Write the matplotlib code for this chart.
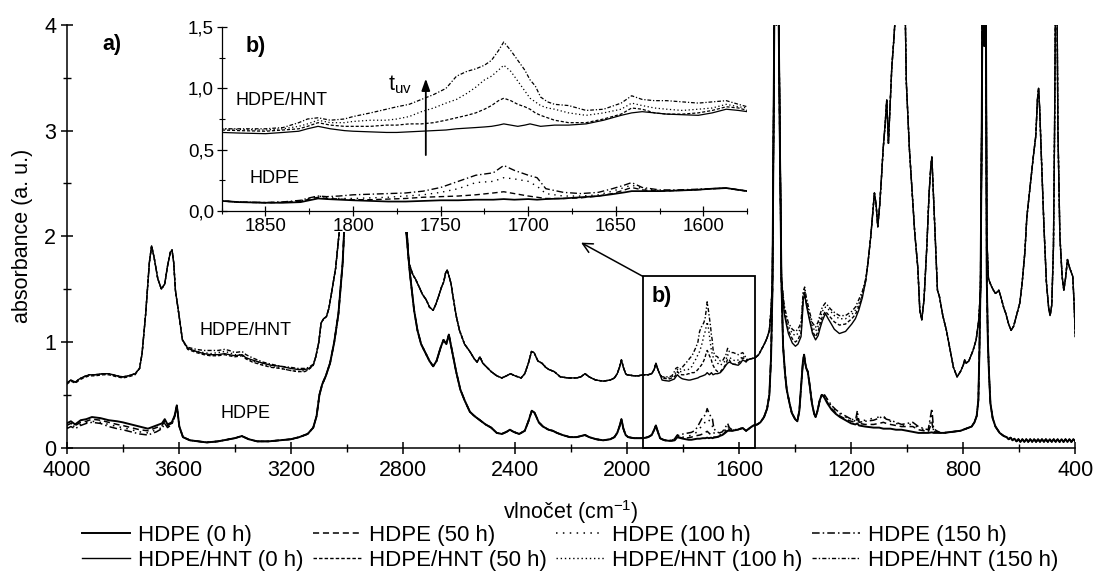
import matplotlib
matplotlib.use('Agg')
import matplotlib.pyplot as plt
from matplotlib.patches import Rectangle
from matplotlib.lines import Line2D
import matplotlib.ticker as mticker

plt.rcParams['font.family'] = ['Liberation Sans', 'DejaVu Sans']
plt.rcParams['mathtext.default'] = 'regular'

# ---------------- DATA ----------------
# HDPE, 4000-3615 cm-1 (differs per exposure time)
hdpe_wn_A = [4000, 3985, 3970, 3950, 3930, 3910, 3880, 3850, 3820, 3800,
             3770, 3740, 3710, 3680, 3660, 3650, 3640, 3625, 3615]
hdpe0_A = [0.23, 0.25, 0.22, 0.26, 0.27, 0.29, 0.28, 0.26, 0.25, 0.24,
           0.22, 0.20, 0.18, 0.21, 0.23, 0.27, 0.22, 0.24, 0.30]
hdpe50_A = [0.21, 0.23, 0.21, 0.24, 0.25, 0.27, 0.26, 0.24, 0.22, 0.21,
            0.19, 0.17, 0.16, 0.19, 0.21, 0.25, 0.21, 0.23, 0.30]
hdpe100_A = [0.19, 0.21, 0.20, 0.22, 0.24, 0.25, 0.24, 0.22, 0.20, 0.19,
             0.17, 0.15, 0.14, 0.17, 0.19, 0.24, 0.20, 0.22, 0.29]
hdpe150_A = [0.18, 0.20, 0.18, 0.21, 0.23, 0.24, 0.23, 0.20, 0.18, 0.17,
             0.15, 0.13, 0.12, 0.15, 0.18, 0.23, 0.19, 0.22, 0.29]

# HDPE, 3607-1882 cm-1 (common to all exposure times)
hdpe_wn_B = [3607, 3598, 3585, 3560, 3530, 3500, 3460, 3420, 3400, 3375,
             3350, 3320, 3280, 3240, 3200, 3170, 3140, 3120, 3108, 3098,
             3088, 3075, 3060, 3045, 3030, 3015, 3000, 2980, 2950, 2920,
             2880, 2850, 2820, 2800, 2790, 2775, 2760, 2748, 2735, 2720,
             2705, 2692, 2680, 2665, 2655, 2645, 2636, 2625, 2610, 2595,
             2580, 2561, 2545, 2530, 2520, 2505, 2485, 2465, 2447, 2430,
             2418, 2405, 2385, 2365, 2352, 2340, 2330, 2315, 2300, 2280,
             2265, 2250, 2230, 2204, 2180, 2165, 2150, 2135, 2110, 2085,
             2060, 2045, 2035, 2027, 2020, 2013, 2005, 1996, 1975, 1960,
             1942, 1925, 1912, 1903, 1897, 1890, 1882]
hdpe_B = [0.40, 0.20, 0.10, 0.07, 0.06, 0.05, 0.06, 0.08, 0.09, 0.11,
          0.08, 0.06, 0.06, 0.07, 0.08, 0.10, 0.13, 0.19, 0.30, 0.50,
          0.60, 0.68, 0.80, 1.00, 1.27, 1.75, 2.60, 3.60, 4.60, 5.00,
          4.80, 5.00, 3.80, 2.60, 2.10, 1.65, 1.30, 1.11, 0.98, 0.90,
          0.82, 0.77, 0.82, 0.95, 1.02, 0.98, 1.07, 0.92, 0.72, 0.55,
          0.45, 0.34, 0.30, 0.27, 0.25, 0.22, 0.19, 0.14, 0.13, 0.15,
          0.17, 0.15, 0.13, 0.16, 0.25, 0.35, 0.33, 0.24, 0.20, 0.17,
          0.16, 0.14, 0.12, 0.10, 0.10, 0.11, 0.12, 0.10, 0.08, 0.07,
          0.08, 0.10, 0.14, 0.20, 0.27, 0.18, 0.12, 0.10, 0.09, 0.09,
          0.09, 0.10, 0.12, 0.17, 0.21, 0.15, 0.09]

# HDPE, carbonyl region 1875-1575 cm-1
hdpe_wn_C = [1875, 1865, 1850, 1840, 1830, 1825, 1820, 1815, 1808, 1800,
             1790, 1780, 1770, 1760, 1750, 1740, 1730, 1720, 1714, 1708,
             1700, 1695, 1690, 1680, 1670, 1660, 1652, 1645, 1641, 1635,
             1625, 1615, 1605, 1595, 1587, 1580, 1575]
hdpe0_C = [0.08, 0.07, 0.065, 0.065, 0.07, 0.085, 0.10, 0.095, 0.09, 0.085,
           0.08, 0.075, 0.075, 0.08, 0.085, 0.085, 0.09, 0.09, 0.095, 0.09,
           0.095, 0.09, 0.095, 0.10, 0.11, 0.12, 0.135, 0.15, 0.16, 0.16,
           0.16, 0.165, 0.17, 0.18, 0.185, 0.17, 0.16]
hdpe50_C = [0.08, 0.07, 0.065, 0.068, 0.075, 0.095, 0.11, 0.10, 0.095, 0.09,
            0.09, 0.095, 0.10, 0.11, 0.115, 0.12, 0.13, 0.145, 0.155, 0.14,
            0.12, 0.11, 0.10, 0.10, 0.105, 0.12, 0.14, 0.17, 0.19, 0.17,
            0.16, 0.165, 0.17, 0.18, 0.185, 0.17, 0.16]
hdpe100_C = [0.08, 0.07, 0.066, 0.07, 0.08, 0.10, 0.12, 0.11, 0.10, 0.10,
             0.105, 0.11, 0.12, 0.13, 0.15, 0.18, 0.23, 0.24, 0.27, 0.26,
             0.24, 0.20, 0.14, 0.12, 0.12, 0.13, 0.16, 0.19, 0.21, 0.18,
             0.165, 0.165, 0.17, 0.18, 0.185, 0.17, 0.16]
hdpe150_C = [0.08, 0.07, 0.067, 0.072, 0.085, 0.105, 0.12, 0.115, 0.12, 0.13,
             0.135, 0.14, 0.145, 0.16, 0.19, 0.24, 0.29, 0.31, 0.37, 0.33,
             0.29, 0.27, 0.18, 0.15, 0.14, 0.15, 0.18, 0.21, 0.23, 0.19,
             0.17, 0.17, 0.175, 0.18, 0.185, 0.17, 0.16]

# HDPE, 1570-1300 cm-1 (common)
hdpe_wn_D = [1570, 1560, 1549, 1535, 1524, 1511, 1500, 1492, 1486, 1481,
             1477, 1472, 1467, 1462, 1455, 1449, 1443, 1436, 1430, 1420,
             1412, 1400, 1392, 1385, 1378, 1372, 1368, 1364, 1360, 1355,
             1349, 1340, 1332, 1327, 1320, 1312, 1305, 1300]
hdpe_D = [0.17, 0.19, 0.21, 0.22, 0.24, 0.29, 0.37, 0.50, 0.85, 1.50,
          3.00, 5.00, 4.00, 5.00, 3.00, 1.59, 0.96, 0.70, 0.55, 0.42,
          0.33, 0.27, 0.25, 0.35, 0.60, 0.82, 0.88, 0.80, 0.75, 0.72,
          0.61, 0.42, 0.32, 0.29, 0.35, 0.45, 0.50, 0.49]

# HDPE, 1295-880 cm-1 (differs per exposure time)
hdpe_wn_E = [1295, 1285, 1270, 1255, 1240, 1220, 1200, 1185, 1178, 1172,
             1150, 1120, 1100, 1085, 1075, 1060, 1040, 1020, 1000, 980,
             960, 940, 925, 912, 906, 895, 880]
hdpe0_E = [0.47, 0.42, 0.36, 0.32, 0.29, 0.26, 0.23, 0.22, 0.23, 0.21,
           0.20, 0.19, 0.19, 0.18, 0.18, 0.18, 0.17, 0.17, 0.16, 0.15,
           0.14, 0.14, 0.14, 0.145, 0.14, 0.14, 0.14]
hdpe50_E = [0.48, 0.43, 0.37, 0.33, 0.30, 0.27, 0.25, 0.24, 0.28, 0.23,
            0.22, 0.22, 0.23, 0.24, 0.23, 0.22, 0.21, 0.20, 0.20, 0.20,
            0.17, 0.16, 0.15, 0.24, 0.15, 0.15, 0.14]
hdpe100_E = [0.49, 0.45, 0.39, 0.35, 0.32, 0.29, 0.27, 0.26, 0.31, 0.25,
             0.26, 0.28, 0.29, 0.29, 0.27, 0.25, 0.23, 0.21, 0.22, 0.22,
             0.19, 0.17, 0.16, 0.30, 0.16, 0.15, 0.14]
hdpe150_E = [0.50, 0.46, 0.40, 0.36, 0.33, 0.30, 0.27, 0.25, 0.35, 0.24,
             0.25, 0.26, 0.28, 0.30, 0.27, 0.26, 0.24, 0.22, 0.23, 0.24,
             0.20, 0.18, 0.17, 0.37, 0.18, 0.16, 0.14]

# HDPE, 870-400 cm-1 (common; fine ringing below 650 cm-1)
hdpe_wn_F = [870, 840, 810, 790, 770, 760, 752, 746, 742, 738,
             734, 730, 725, 720, 716, 712, 708, 703, 695, 685,
             670, 655, 645, 638, 631, 624, 617, 610, 603, 596,
             589, 582, 575, 568, 561, 554, 547, 540, 533, 526,
             519, 512, 505, 498, 491, 484, 477, 470, 463, 456,
             449, 442, 435, 428, 421, 414, 407, 400]
hdpe_F = [0.14, 0.15, 0.16, 0.18, 0.20, 0.24, 0.30, 0.45, 0.95, 1.60,
          3.00, 5.00, 3.80, 5.00, 1.60, 1.00, 0.70, 0.42, 0.28, 0.20,
          0.14, 0.11, 0.10, 0.08, 0.095, 0.07, 0.085, 0.06, 0.08, 0.055,
          0.08, 0.055, 0.08, 0.055, 0.08, 0.055, 0.08, 0.055, 0.08, 0.055,
          0.08, 0.055, 0.08, 0.055, 0.08, 0.055, 0.08, 0.055, 0.08, 0.055,
          0.08, 0.055, 0.08, 0.055, 0.08, 0.055, 0.08, 0.06]

# HDPE/HNT, 4000-3111 cm-1 (per exposure time)
hnt_wn_A = [4000, 3985, 3969, 3955, 3940, 3920, 3900, 3870, 3850, 3820,
            3800, 3780, 3756, 3740, 3731, 3718, 3705, 3697, 3688, 3675,
            3662, 3650, 3640, 3630, 3624, 3618, 3612, 3600, 3587, 3568,
            3537, 3510, 3487, 3460, 3436, 3420, 3400, 3374, 3360, 3337,
            3300, 3270, 3236, 3200, 3175, 3150, 3136, 3120, 3111]
hnt0_A = [0.61, 0.64, 0.62, 0.65, 0.67, 0.69, 0.69, 0.70, 0.70, 0.68,
          0.67, 0.68, 0.70, 0.75, 0.89, 1.27, 1.75, 1.91, 1.80, 1.60,
          1.50, 1.55, 1.72, 1.85, 1.87, 1.75, 1.49, 1.27, 1.02, 0.94,
          0.91, 0.89, 0.88, 0.88, 0.89, 0.88, 0.87, 0.88, 0.85, 0.83,
          0.80, 0.78, 0.77, 0.75, 0.74, 0.74, 0.75, 0.78, 0.86]
hnt50_A = [0.60, 0.63, 0.61, 0.64, 0.66, 0.68, 0.68, 0.69, 0.69, 0.67,
           0.66, 0.67, 0.69, 0.75, 0.89, 1.27, 1.75, 1.91, 1.80, 1.60,
           1.50, 1.55, 1.72, 1.85, 1.87, 1.75, 1.49, 1.27, 1.02, 0.93,
           0.90, 0.88, 0.87, 0.87, 0.88, 0.87, 0.86, 0.87, 0.84, 0.81,
           0.78, 0.76, 0.75, 0.73, 0.72, 0.72, 0.74, 0.78, 0.86]
hnt100_A = [0.61, 0.64, 0.62, 0.65, 0.67, 0.69, 0.69, 0.70, 0.70, 0.68,
            0.67, 0.68, 0.70, 0.75, 0.89, 1.27, 1.75, 1.91, 1.80, 1.60,
            1.50, 1.55, 1.72, 1.85, 1.87, 1.75, 1.49, 1.27, 1.02, 0.94,
            0.91, 0.90, 0.89, 0.90, 0.91, 0.90, 0.88, 0.88, 0.85, 0.82,
            0.79, 0.77, 0.75, 0.73, 0.72, 0.73, 0.74, 0.78, 0.86]
hnt150_A = [0.61, 0.64, 0.62, 0.65, 0.67, 0.69, 0.69, 0.70, 0.70, 0.68,
            0.67, 0.68, 0.70, 0.75, 0.89, 1.27, 1.75, 1.91, 1.80, 1.60,
            1.50, 1.55, 1.72, 1.85, 1.87, 1.75, 1.49, 1.27, 1.02, 0.95,
            0.93, 0.92, 0.92, 0.92, 0.93, 0.92, 0.90, 0.91, 0.88, 0.85,
            0.81, 0.79, 0.77, 0.76, 0.75, 0.75, 0.76, 0.79, 0.86]

# HDPE/HNT, 3100-1882 cm-1 (common)
hnt_wn_B = [3100, 3092, 3083, 3073, 3064, 3055, 3040, 3025, 3010, 2990,
            2960, 2920, 2880, 2850, 2820, 2800, 2785, 2779, 2765, 2754,
            2742, 2730, 2717, 2705, 2692, 2682, 2673, 2662, 2654, 2648,
            2642, 2635, 2628, 2623, 2610, 2598, 2580, 2561, 2545, 2535,
            2525, 2515, 2500, 2485, 2465, 2447, 2430, 2416, 2400, 2378,
            2365, 2352, 2341, 2332, 2318, 2304, 2290, 2279, 2260, 2238,
            2210, 2180, 2165, 2150, 2135, 2112, 2085, 2060, 2045, 2035,
            2027, 2020, 2013, 2005, 2000, 1975, 1960, 1943, 1925, 1912,
            1903, 1897, 1890, 1882]
hnt_B = [1.00, 1.18, 1.22, 1.24, 1.32, 1.46, 1.70, 2.10, 2.80, 3.80,
         4.80, 5.20, 5.00, 5.20, 4.00, 2.90, 2.03, 1.75, 1.64, 1.59,
         1.52, 1.45, 1.40, 1.33, 1.30, 1.36, 1.43, 1.52, 1.57, 1.65,
         1.68, 1.62, 1.55, 1.46, 1.25, 1.11, 0.98, 0.91, 0.84, 0.81,
         0.86, 0.80, 0.76, 0.72, 0.68, 0.66, 0.68, 0.70, 0.68, 0.66,
         0.70, 0.80, 0.91, 0.90, 0.82, 0.80, 0.76, 0.74, 0.72, 0.67,
         0.66, 0.66, 0.67, 0.70, 0.67, 0.64, 0.63, 0.64, 0.66, 0.70,
         0.76, 0.83, 0.76, 0.70, 0.69, 0.68, 0.68, 0.69, 0.69, 0.70,
         0.74, 0.80, 0.74, 0.69]

# HDPE/HNT, carbonyl region 1875-1575 cm-1
hnt_wn_C = [1875, 1865, 1850, 1840, 1831, 1826, 1820, 1813, 1805, 1800,
            1790, 1781, 1775, 1768, 1761, 1754, 1747, 1741, 1735, 1730,
            1725, 1721, 1717, 1714, 1710, 1706, 1702, 1699, 1696, 1693,
            1689, 1685, 1677, 1667, 1657, 1647, 1641, 1635, 1628, 1621,
            1612, 1603, 1595, 1587, 1580, 1575]
hnt0_C = [0.64, 0.635, 0.63, 0.64, 0.65, 0.67, 0.69, 0.67, 0.655, 0.65,
          0.645, 0.64, 0.64, 0.645, 0.65, 0.655, 0.66, 0.67, 0.675, 0.68,
          0.685, 0.69, 0.70, 0.71, 0.70, 0.69, 0.70, 0.71, 0.70, 0.69,
          0.695, 0.70, 0.70, 0.71, 0.74, 0.78, 0.80, 0.81, 0.80, 0.79,
          0.785, 0.78, 0.80, 0.83, 0.82, 0.81]
hnt50_C = [0.66, 0.655, 0.65, 0.66, 0.67, 0.69, 0.72, 0.70, 0.69, 0.69,
           0.69, 0.70, 0.70, 0.71, 0.71, 0.72, 0.74, 0.76, 0.78, 0.80,
           0.83, 0.86, 0.90, 0.92, 0.90, 0.87, 0.85, 0.83, 0.80, 0.78,
           0.76, 0.74, 0.72, 0.72, 0.75, 0.79, 0.84, 0.83, 0.80, 0.79,
           0.79, 0.80, 0.82, 0.85, 0.84, 0.82]
hnt100_C = [0.67, 0.665, 0.66, 0.67, 0.69, 0.71, 0.74, 0.72, 0.72, 0.73,
            0.74, 0.74, 0.75, 0.77, 0.81, 0.84, 0.88, 0.91, 0.96, 1.01,
            1.07, 1.10, 1.15, 1.19, 1.14, 1.06, 0.98, 0.92, 0.89, 0.86,
            0.84, 0.83, 0.80, 0.78, 0.80, 0.83, 0.88, 0.86, 0.84, 0.83,
            0.82, 0.83, 0.84, 0.87, 0.85, 0.84]
hnt150_C = [0.67, 0.67, 0.67, 0.68, 0.72, 0.75, 0.76, 0.74, 0.75, 0.77,
            0.80, 0.83, 0.85, 0.87, 0.91, 0.95, 1.00, 1.10, 1.14, 1.16,
            1.19, 1.23, 1.31, 1.38, 1.31, 1.23, 1.15, 1.07, 1.02, 0.93,
            0.89, 0.87, 0.86, 0.82, 0.83, 0.88, 0.94, 0.91, 0.90, 0.90,
            0.89, 0.88, 0.89, 0.90, 0.87, 0.85]

# HDPE/HNT, 1570-1449 cm-1 (common)
hnt_wn_D1 = [1570, 1560, 1543, 1530, 1524, 1510, 1500, 1492, 1486, 1481,
             1477, 1472, 1467, 1462, 1455, 1449]
hnt_D1 = [0.83, 0.84, 0.85, 0.88, 0.91, 0.98, 1.04, 1.11, 1.30, 1.59,
          3.00, 5.00, 4.20, 5.00, 3.20, 1.60]

# HDPE/HNT, 1443-1148 cm-1 (per exposure time)
hnt_wn_D2 = [1443, 1439, 1430, 1424, 1410, 1399, 1390, 1379, 1375, 1371,
             1366, 1360, 1349, 1338, 1327, 1318, 1311, 1303, 1292, 1282,
             1273, 1260, 1242, 1220, 1198, 1185, 1173, 1160, 1148]
hnt0_D2 = [1.40, 1.27, 1.15, 1.08, 0.99, 0.96, 0.98, 1.05, 1.20, 1.40,
           1.45, 1.35, 1.21, 1.08, 1.02, 1.06, 1.13, 1.20, 1.27, 1.22,
           1.18, 1.12, 1.08, 1.10, 1.17, 1.22, 1.30, 1.42, 1.58]
hnt50_D2 = [1.42, 1.30, 1.18, 1.11, 1.03, 1.00, 1.02, 1.09, 1.25, 1.43,
            1.47, 1.37, 1.23, 1.10, 1.05, 1.10, 1.17, 1.24, 1.29, 1.26,
            1.23, 1.19, 1.16, 1.17, 1.22, 1.26, 1.33, 1.44, 1.58]
hnt100_D2 = [1.43, 1.32, 1.21, 1.15, 1.08, 1.06, 1.08, 1.14, 1.30, 1.46,
             1.50, 1.40, 1.26, 1.14, 1.10, 1.15, 1.22, 1.29, 1.33, 1.31,
             1.29, 1.25, 1.22, 1.22, 1.26, 1.30, 1.36, 1.46, 1.59]
hnt150_D2 = [1.45, 1.35, 1.24, 1.18, 1.12, 1.10, 1.12, 1.18, 1.33, 1.48,
             1.52, 1.42, 1.29, 1.18, 1.14, 1.19, 1.26, 1.33, 1.37, 1.34,
             1.31, 1.28, 1.25, 1.25, 1.29, 1.33, 1.40, 1.48, 1.60]

# HDPE/HNT, 1140-400 cm-1 (common)
hnt_wn_F = [1140, 1130, 1123, 1117, 1111, 1105, 1098, 1092, 1086, 1079,
            1073, 1067, 1061, 1055, 1048, 1042, 1035, 1030, 1020, 1012,
            1007, 1003, 997, 992, 983, 973, 962, 955, 948, 940,
            930, 922, 916, 912, 908, 900, 892, 885, 873, 860,
            845, 835, 822, 810, 800, 795, 790, 780, 765, 754,
            745, 738, 734, 730, 725, 720, 716, 710, 703, 698,
            690, 685, 680, 673, 665, 655, 648, 638, 629, 620,
            610, 598, 590, 580, 573, 560, 550, 541, 535, 531,
            527, 522, 512, 503, 495, 490, 484, 478, 474, 470,
            466, 462, 455, 447, 441, 435, 428, 420, 409, 404,
            400]
hnt_F = [1.75, 2.00, 2.22, 2.41, 2.30, 2.09, 2.30, 2.55, 2.82, 3.05,
         3.29, 2.88, 3.25, 3.60, 3.85, 4.10, 4.40, 4.80, 4.60, 4.30,
         4.10, 3.45, 3.10, 2.82, 2.45, 2.03, 1.70, 1.30, 1.21, 1.40,
         1.90, 2.40, 2.65, 2.75, 2.50, 2.00, 1.49, 1.43, 1.25, 1.11,
         0.90, 0.76, 0.67, 0.72, 0.78, 0.83, 0.80, 0.82, 0.92, 1.02,
         1.20, 1.50, 3.00, 5.00, 4.00, 5.00, 2.00, 1.60, 1.55, 1.52,
         1.48, 1.46, 1.47, 1.49, 1.42, 1.32, 1.27, 1.17, 1.11, 1.15,
         1.25, 1.37, 1.55, 1.85, 2.18, 2.50, 2.75, 2.95, 3.30, 3.40,
         3.20, 2.82, 2.10, 1.56, 1.32, 1.25, 1.35, 1.90, 3.00, 4.50,
         4.50, 3.00, 2.00, 1.62, 1.49, 1.60, 1.78, 1.70, 1.62, 1.35,
         1.05]

labels = ['HDPE (0 h)', 'HDPE/HNT (0 h)', 'HDPE (50 h)', 'HDPE/HNT (50 h)',
          'HDPE (100 h)', 'HDPE/HNT (100 h)', 'HDPE (150 h)', 'HDPE/HNT (150 h)']

x_ticks = [4000, 3600, 3200, 2800, 2400, 2000, 1600, 1200, 800, 400]
inset_x_ticks = [1850, 1800, 1750, 1700, 1650, 1600]
inset_y_ticks = [0.0, 0.5, 1.0, 1.5]


def join(*parts):
    wn, ab = [], []
    for w, a in parts:
        assert len(w) == len(a), (len(w), len(a))
        wn += list(w)
        ab += list(a)
    return wn, ab


series = {
    'HDPE (0 h)': join((hdpe_wn_A, hdpe0_A), (hdpe_wn_B, hdpe_B), (hdpe_wn_C, hdpe0_C),
                       (hdpe_wn_D, hdpe_D), (hdpe_wn_E, hdpe0_E), (hdpe_wn_F, hdpe_F)),
    'HDPE (50 h)': join((hdpe_wn_A, hdpe50_A), (hdpe_wn_B, hdpe_B), (hdpe_wn_C, hdpe50_C),
                        (hdpe_wn_D, hdpe_D), (hdpe_wn_E, hdpe50_E), (hdpe_wn_F, hdpe_F)),
    'HDPE (100 h)': join((hdpe_wn_A, hdpe100_A), (hdpe_wn_B, hdpe_B), (hdpe_wn_C, hdpe100_C),
                         (hdpe_wn_D, hdpe_D), (hdpe_wn_E, hdpe100_E), (hdpe_wn_F, hdpe_F)),
    'HDPE (150 h)': join((hdpe_wn_A, hdpe150_A), (hdpe_wn_B, hdpe_B), (hdpe_wn_C, hdpe150_C),
                         (hdpe_wn_D, hdpe_D), (hdpe_wn_E, hdpe150_E), (hdpe_wn_F, hdpe_F)),
    'HDPE/HNT (0 h)': join((hnt_wn_A, hnt0_A), (hnt_wn_B, hnt_B), (hnt_wn_C, hnt0_C),
                           (hnt_wn_D1, hnt_D1), (hnt_wn_D2, hnt0_D2), (hnt_wn_F, hnt_F)),
    'HDPE/HNT (50 h)': join((hnt_wn_A, hnt50_A), (hnt_wn_B, hnt_B), (hnt_wn_C, hnt50_C),
                            (hnt_wn_D1, hnt_D1), (hnt_wn_D2, hnt50_D2), (hnt_wn_F, hnt_F)),
    'HDPE/HNT (100 h)': join((hnt_wn_A, hnt100_A), (hnt_wn_B, hnt_B), (hnt_wn_C, hnt100_C),
                             (hnt_wn_D1, hnt_D1), (hnt_wn_D2, hnt100_D2), (hnt_wn_F, hnt_F)),
    'HDPE/HNT (150 h)': join((hnt_wn_A, hnt150_A), (hnt_wn_B, hnt_B), (hnt_wn_C, hnt150_C),
                             (hnt_wn_D1, hnt_D1), (hnt_wn_D2, hnt150_D2), (hnt_wn_F, hnt_F)),
}

styles = {
    'HDPE (0 h)': dict(ls='-', lw=1.4, z=6),
    'HDPE/HNT (0 h)': dict(ls='-', lw=1.0, z=6),
    'HDPE (50 h)': dict(ls=(0, (4, 2.5)), lw=1.1, z=5),
    'HDPE/HNT (50 h)': dict(ls=(0, (2.5, 1.5)), lw=1.0, z=5),
    'HDPE (100 h)': dict(ls=(0, (1, 3.5)), lw=1.1, z=4),
    'HDPE/HNT (100 h)': dict(ls=(0, (1, 2)), lw=1.0, z=4),
    'HDPE (150 h)': dict(ls=(0, (5, 2, 1, 2)), lw=1.1, z=3),
    'HDPE/HNT (150 h)': dict(ls=(0, (3, 1.5, 1, 1.5)), lw=1.0, z=3),
}

# ---------------- FIGURE ----------------
W, H = 1098, 571
fig = plt.figure(figsize=(W / 100, H / 100), dpi=100)


def fx(px):
    return px / W


def fy(py):
    return 1 - py / H


FS = 15.5
ax = fig.add_axes([fx(66.7), fy(447.7), fx(1075.3) - fx(66.7), fy(24.9) - fy(447.7)])
for name in labels:
    wn, ab = series[name]
    st = styles[name]
    ax.plot(wn, ab, color='black', linestyle=st['ls'], linewidth=st['lw'], zorder=st['z'])

ax.set_xlim(4000, 400)
ax.set_ylim(0, 4)
ax.set_xticks(x_ticks)
ax.xaxis.set_minor_locator(mticker.MultipleLocator(200))
ax.set_yticks([0, 1, 2, 3, 4])
ax.yaxis.set_minor_locator(mticker.MultipleLocator(0.5))
for s in ('top', 'right'):
    ax.spines[s].set_visible(False)
for s in ('left', 'bottom'):
    ax.spines[s].set_linewidth(1.1)
ax.tick_params(which='major', direction='inout', length=9, width=1.1, labelsize=FS)
ax.tick_params(axis='x', which='major', pad=4.5)
ax.tick_params(axis='y', which='major', pad=3)
ax.tick_params(which='minor', direction='inout', length=6, width=1.0)
ax.set_xlabel('vlnočet (cm$^{-1}$)', fontsize=FS, labelpad=12)
ax.set_ylabel('absorbance (a. u.)', fontsize=FS, labelpad=8)

ax.text(3874, 3.81, 'a)', fontsize=FS, fontweight='bold', ha='left', va='center')
ax.text(3361, 1.11, 'HDPE/HNT', fontsize=13, ha='center', va='center')
ax.text(3361, 0.325, 'HDPE', fontsize=13, ha='center', va='center')

# zoom box and arrow
ax.add_patch(Rectangle((1943, 0), 1542 - 1943, 1.62, fill=False, edgecolor='black',
                       linewidth=1.3, zorder=8, clip_on=False))
ax.text(1911, 1.43, 'b)', fontsize=FS, fontweight='bold', ha='left', va='center', zorder=9)
ax.annotate('', xy=(2164, 1.94), xytext=(1943, 1.62),
            arrowprops=dict(arrowstyle='->,head_length=0.7,head_width=0.35', lw=1.1,
                            color='black', shrinkA=0, shrinkB=0), zorder=9)

# white background behind inset
fig.add_artist(Rectangle((fx(182), fy(232)), fx(762) - fx(182), fy(0) - fy(232),
                         transform=fig.transFigure, facecolor='white', edgecolor='none', zorder=1))

# ---------------- INSET ----------------
axi = fig.add_axes([fx(221.7), fy(210.7), fx(747.3) - fx(221.7), fy(27.3) - fy(210.7)], zorder=2)
axi.set_facecolor('white')
for name in labels:
    wn, ab = series[name]
    st = styles[name]
    axi.plot(wn, ab, color='black', linestyle=st['ls'], linewidth=st['lw'] * 0.9, zorder=st['z'])
axi.set_xlim(1875, 1575)
axi.set_ylim(0, 1.5)
axi.set_xticks(inset_x_ticks)
axi.xaxis.set_minor_locator(mticker.MultipleLocator(25))
axi.set_yticks(inset_y_ticks)
axi.yaxis.set_minor_locator(mticker.MultipleLocator(0.25))
axi.yaxis.set_major_formatter(mticker.FuncFormatter(lambda v, p: f'{v:.1f}'.replace('.', ',')))
for s in ('top', 'right'):
    axi.spines[s].set_visible(False)
for s in ('left', 'bottom'):
    axi.spines[s].set_linewidth(0.9)
axi.tick_params(which='major', direction='inout', length=7, width=0.9, labelsize=13.5, pad=2)
axi.tick_params(which='minor', direction='inout', length=5, width=0.8)

axi.text(1861.3, 1.34, 'b)', fontsize=FS, fontweight='bold', ha='left', va='center')
axi.text(1867, 0.90, 'HDPE/HNT', fontsize=13, ha='left', va='center')
axi.text(1859, 0.26, 'HDPE', fontsize=13, ha='left', va='center')
axi.text(1780, 1.03, 't$_{uv}$', fontsize=FS, ha='left', va='center')
axi.annotate('', xy=(1758.5, 1.08), xytext=(1758.5, 0.455),
             arrowprops=dict(arrowstyle='-|>,head_length=0.7,head_width=0.25', lw=1.3,
                             color='black', shrinkA=0, shrinkB=0))

# ---------------- LEGEND ----------------
handles = [Line2D([], [], color='black', linestyle=styles[n]['ls'], linewidth=styles[n]['lw'])
           for n in labels]
fig.legend(handles, labels, ncol=4, loc='upper left', bbox_to_anchor=(fx(82), fy(525)),
           frameon=False, fontsize=16, handlelength=2.15, handletextpad=0.35,
           columnspacing=0.45, borderpad=0, borderaxespad=0, labelspacing=0.17)

fig.savefig('out.png', dpi=100)
